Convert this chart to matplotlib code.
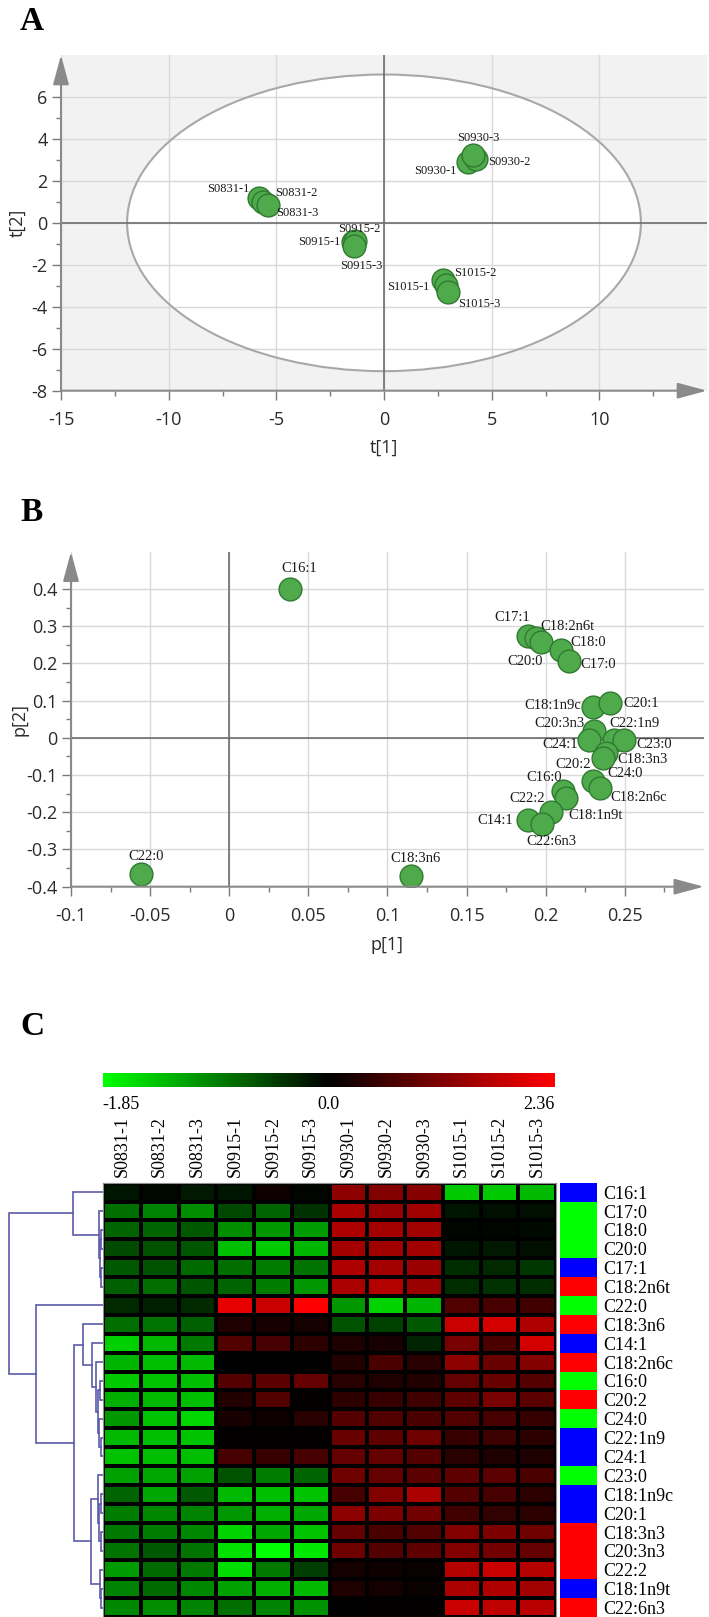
import numpy as np
import matplotlib
matplotlib.use('Agg')
import matplotlib.pyplot as plt
from matplotlib.patches import Ellipse
from matplotlib.colors import LinearSegmentedColormap, TwoSlopeNorm, ListedColormap
from matplotlib.cm import ScalarMappable

plt.rcParams['font.family'] = 'sans-serif'
plt.rcParams['font.sans-serif'] = ['Open Sans', 'DejaVu Sans']
SERIF = 'Liberation Serif'

# ---------------- data ----------------
# A: PCA score plot
score_names = ['S0831-1', 'S0831-2', 'S0831-3', 'S0915-1', 'S0915-2', 'S0915-3',
               'S0930-1', 'S0930-2', 'S0930-3', 'S1015-1', 'S1015-2', 'S1015-3']
score_t1 = [-5.80, -5.60, -5.37, -1.43, -1.33, -1.37, 3.92, 4.25, 4.14, 2.72, 2.88, 2.99]
score_t2 = [1.19, 1.00, 0.84, -0.90, -0.86, -1.11, 2.88, 3.02, 3.22, -2.73, -2.97, -3.29]
ellipse_t1 = 11.93   # Hotelling T2 semi axes
ellipse_t2 = 7.07

# B: loading plot
load_names = ['C16:1', 'C17:1', 'C18:2n6t', 'C20:0', 'C18:0', 'C17:0', 'C18:1n9c', 'C20:1',
              'C20:3n3', 'C22:1n9', 'C24:1', 'C23:0', 'C18:3n3', 'C20:2', 'C24:0',
              'C18:2n6c', 'C16:0', 'C22:2', 'C18:1n9t', 'C14:1', 'C22:6n3', 'C22:0', 'C18:3n6']
load_p1 = [0.0384, 0.1887, 0.1940, 0.1970, 0.2098, 0.2146, 0.2298, 0.2408,
           0.2309, 0.2435, 0.2277, 0.2498, 0.2380, 0.2360, 0.2302,
           0.2344, 0.2113, 0.2130, 0.2035, 0.1887, 0.1980, -0.0556, 0.1149]
load_p2 = [0.400, 0.273, 0.269, 0.258, 0.235, 0.206, 0.083, 0.093,
           0.018, -0.006, -0.005, -0.005, -0.042, -0.055, -0.116,
           -0.136, -0.142, -0.162, -0.198, -0.222, -0.231, -0.367, -0.372]

# C: heatmap
samples = score_names
fatty_acids = ['C16:1', 'C17:0', 'C18:0', 'C20:0', 'C17:1', 'C18:2n6t', 'C22:0', 'C18:3n6',
               'C14:1', 'C18:2n6c', 'C16:0', 'C20:2', 'C24:0', 'C22:1n9', 'C24:1', 'C23:0',
               'C18:1n9c', 'C20:1', 'C18:3n3', 'C20:3n3', 'C22:2', 'C18:1n9t', 'C22:6n3']
fa_class = ['MUFA', 'SFA', 'SFA', 'SFA', 'MUFA', 'PUFA', 'SFA', 'PUFA', 'MUFA', 'PUFA', 'SFA',
            'PUFA', 'SFA', 'MUFA', 'MUFA', 'SFA', 'MUFA', 'MUFA', 'PUFA', 'PUFA', 'PUFA',
            'MUFA', 'PUFA']
heat = np.array([
    [-0.15, -0.07, -0.18, -0.15, 0.14, -0.04, 1.30, 1.20, 1.25, -1.45, -1.45, -1.34],
    [-0.80, -0.94, -1.02, -0.51, -0.73, -0.36, 1.57, 1.39, 1.48, -0.15, -0.11, -0.11],
    [-0.73, -0.73, -0.65, -1.02, -1.09, -1.12, 1.62, 1.53, 1.48, -0.04, -0.04, -0.07],
    [-0.54, -0.58, -0.62, -1.38, -1.45, -1.31, 1.53, 1.48, 1.48, -0.15, -0.18, -0.11],
    [-0.65, -0.58, -0.76, -0.80, -0.91, -0.83, 1.62, 1.53, 1.43, -0.33, -0.29, -0.40],
    [-0.69, -0.80, -0.62, -0.73, -0.91, -1.09, 1.57, 1.67, 1.43, -0.33, -0.36, -0.33],
    [-0.29, -0.22, -0.29, 2.13, 1.85, 2.36, -1.09, -1.52, -1.31, 0.74, 0.65, 0.60],
    [-0.80, -0.83, -0.69, 0.28, 0.23, 0.19, -0.58, -0.47, -0.65, 1.85, 1.94, 1.62],
    [-1.49, -1.34, -0.87, 0.74, 0.65, 0.42, 0.28, 0.23, -0.25, 1.11, 0.69, 1.94],
    [-1.31, -1.38, -1.34, 0.00, 0.00, 0.00, 0.32, 0.69, 0.37, 1.30, 0.97, 1.20],
    [-1.45, -1.41, -1.38, 0.79, 0.83, 0.93, 0.37, 0.28, 0.32, 0.93, 0.97, 0.79],
    [-1.27, -1.34, -1.38, 0.32, 0.74, 0.05, 0.42, 0.51, 0.60, 0.88, 1.11, 0.83],
    [-1.09, -1.41, -1.56, 0.23, 0.14, 0.37, 0.79, 0.74, 0.69, 0.74, 0.65, 0.51],
    [-1.34, -1.38, -1.41, 0.05, 0.05, 0.05, 0.97, 0.88, 1.02, 0.51, 0.56, 0.42],
    [-1.41, -1.38, -1.38, 0.65, 0.51, 0.65, 0.93, 0.93, 0.79, 0.37, 0.28, 0.28],
    [-1.16, -1.20, -1.16, -0.58, -0.91, -0.73, 1.02, 0.93, 0.83, 0.88, 0.83, 0.69],
    [-0.73, -1.20, -0.65, -1.34, -1.38, -1.41, 0.65, 1.20, 1.57, 0.79, 0.65, 0.42],
    [-0.91, -0.98, -0.94, -1.09, -1.27, -1.20, 1.30, 1.16, 1.06, 0.60, 0.46, 0.42],
    [-0.87, -0.91, -0.98, -1.52, -1.20, -1.41, 0.93, 0.69, 0.74, 1.20, 1.16, 1.02],
    [-0.83, -0.65, -0.83, -1.63, -1.85, -1.67, 1.02, 0.79, 0.88, 1.20, 1.06, 0.93],
    [-1.12, -0.76, -0.87, -1.60, -0.87, -0.44, 0.19, 0.14, 0.09, 1.67, 1.85, 1.67],
    [-0.94, -0.76, -0.98, -1.16, -1.27, -1.34, 0.28, 0.19, 0.09, 1.57, 1.62, 1.48],
    [-0.98, -1.02, -0.94, -0.80, -0.94, -1.05, 0.00, 0.05, 0.05, 1.85, 1.76, 1.71],
])
heat_min, heat_max = -1.85, 2.36

# row dendrogram, (left, right, distance); leaves are 0..22, merge k gives id 23+k
dendro_merges = [
    (2, 3, 1.5), (4, 5, 2.0), (23, 24, 2.5), (1, 25, 4.0), (0, 26, 30.0),
    (10, 11, 2.5), (13, 14, 2.0), (12, 29, 3.5), (28, 30, 5.0), (9, 31, 7.0),
    (8, 32, 11.3), (7, 33, 20.3), (16, 17, 2.0), (18, 19, 1.5), (35, 36, 3.5),
    (15, 37, 5.0), (21, 22, 1.5), (20, 39, 3.0), (38, 40, 12.3), (34, 41, 29.0),
    (6, 42, 67.3), (27, 43, 94.0),
]

# ---------------- layout / style ----------------
W, H = 709, 1617
PT = 0.72  # points per pixel at dpi 100

score_offsets = {  # (dx, dy) in px, ha
    'S0831-1': (-10, 9, 'right'), 'S0831-2': (12, 9, 'left'), 'S0831-3': (8, -8, 'left'),
    'S0915-1': (-13, 0, 'right'), 'S0915-2': (4, 12, 'center'), 'S0915-3': (7, -20, 'center'),
    'S0930-1': (-12, -9, 'right'), 'S0930-2': (13, -3, 'left'), 'S0930-3': (5, 17, 'center'),
    'S1015-1': (-13, -7, 'right'), 'S1015-2': (8, 12, 'left'), 'S1015-3': (10, -12, 'left'),
}
load_offsets = {
    'C16:1': (9, 20, 'center'), 'C17:1': (2, 19, 'right'), 'C18:2n6t': (4, 11, 'left'),
    'C20:0': (2, -20, 'right'), 'C18:0': (9, 8, 'left'), 'C17:0': (12, -3, 'left'),
    'C18:1n9c': (-12, 1, 'right'), 'C20:1': (13, 0, 'left'), 'C20:3n3': (-10, 8, 'right'),
    'C22:1n9': (-5, 17, 'left'), 'C24:1': (-11, -5, 'right'), 'C23:0': (12, -5, 'left'),
    'C18:3n3': (12, -6, 'left'), 'C20:2': (-12, -6, 'right'), 'C24:0': (14, 7, 'left'),
    'C18:2n6c': (10, -9, 'left'), 'C16:0': (-1, 13, 'right'), 'C22:2': (-21, 0, 'right'),
    'C18:1n9t': (17, -4, 'left'), 'C14:1': (-15, 0, 'right'), 'C22:6n3': (9, -18, 'center'),
    'C22:0': (5, 18, 'center'), 'C18:3n6': (5, 18, 'center'),
}

GREEN_FACE = '#4eaa4b'
GREEN_EDGE = '#2f7a30'
DENDRO_COLOR = '#5a5aaa'
CLASS_COLORS = {'SFA': '#00ff00', 'MUFA': '#0000ff', 'PUFA': '#ff0000'}


def px_axes(fig, x0, y0, x1, y1):
    return fig.add_axes([x0 / W, 1 - y1 / H, (x1 - x0) / W, (y1 - y0) / H])


def fmt(v):
    return '{:g}'.format(np.round(v, 3) + 0.0)


def simca_axes(ax, xlim, ylim, xmajor, xminor, ymajor, yminor):
    """Style an axes like the SIMCA score/loading plots (arrow axes, grid)."""
    ax.set_xlim(*xlim)
    ax.set_ylim(*ylim)
    ax.set_xticks(xmajor, [fmt(v) for v in xmajor])
    ax.set_yticks(ymajor, [fmt(v) for v in ymajor])
    ax.set_xticks(xminor, minor=True)
    ax.set_yticks(yminor, minor=True)
    ax.tick_params(which='major', direction='out', length=6.3, width=1, color='#7a7a7a',
                   labelsize=13, labelcolor='#2a2a2a')
    ax.tick_params(which='minor', direction='out', length=3.6, width=1, color='#7a7a7a')
    ax.tick_params(axis='x', which='major', pad=8.5)
    ax.tick_params(axis='y', which='major', pad=3.3)
    ax.grid(True, which='major', color='#d9d9d9', lw=1)
    ax.set_axisbelow(True)
    for s in ax.spines.values():
        s.set_visible(False)
    ax.axhline(0, color='#6e6e6e', lw=1.2, zorder=1.6)
    ax.axvline(0, color='#6e6e6e', lw=1.2, zorder=1.6)
    arrow = dict(arrowstyle='-|>,head_length=1.3,head_width=0.35', color='#8a8a8a', lw=1.5,
                 shrinkA=0, shrinkB=0, mutation_scale=14)
    ax.annotate('', xy=(1, 0), xytext=(0, 0), xycoords='axes fraction',
                arrowprops=arrow, annotation_clip=False, zorder=5)
    ax.annotate('', xy=(0, 1), xytext=(0, 0), xycoords='axes fraction',
                arrowprops=arrow, annotation_clip=False, zorder=5)


def label_points(ax, names, xs, ys, offsets, size):
    for name, x, y in zip(names, xs, ys):
        dx, dy, ha = offsets[name]
        ax.annotate(name, (x, y), xytext=(dx * PT, dy * PT), textcoords='offset points',
                    ha=ha, va='center', fontsize=size, family=SERIF, color='#1a1a1a', zorder=4)


def draw_dendrogram(ax, merges, n_leaves):
    ypos = {i: i + 0.5 for i in range(n_leaves)}
    height = {i: 0.0 for i in range(n_leaves)}
    for k, (a, b, d) in enumerate(merges):
        ax.plot([height[a], d, d, height[b]], [ypos[a], ypos[a], ypos[b], ypos[b]],
                color=DENDRO_COLOR, lw=1.2, solid_joinstyle='miter')
        ypos[n_leaves + k] = (ypos[a] + ypos[b]) / 2
        height[n_leaves + k] = d


fig = plt.figure(figsize=(W / 100, H / 100), dpi=100)

# ---------------- A ----------------
fig.text(20 / W, 1 - 6 / H, 'A', family=SERIF, fontweight='bold', fontsize=24, va='top')
axA = px_axes(fig, 61, 55, 707, 390.7)
axA.set_facecolor('#f2f2f2')
simca_axes(axA, (-15, 15), (-8, 8), np.arange(-15, 11, 5), np.arange(-15, 15, 2.5),
           np.arange(-8, 7, 2), np.arange(-8, 8, 1))
axA.add_patch(Ellipse((0, 0), 2 * ellipse_t1, 2 * ellipse_t2, facecolor='white',
                      edgecolor='none', zorder=0.2))
axA.add_patch(Ellipse((0, 0), 2 * ellipse_t1, 2 * ellipse_t2, facecolor='none',
                      edgecolor='#a8a8a8', lw=1.5, zorder=1.5))
axA.scatter(score_t1, score_t2, s=270, c=GREEN_FACE, edgecolors=GREEN_EDGE, linewidths=1.0,
            zorder=3)
label_points(axA, score_names, score_t1, score_t2, score_offsets, 9)
fig.text(384 / W, 1 - 448 / H, 't[1]', fontsize=13, ha='center', va='center', color='#2a2a2a')
fig.text(18 / W, 1 - 222.7 / H, 't[2]', fontsize=13, ha='center', va='center', rotation=90,
         color='#2a2a2a')

# ---------------- B ----------------
fig.text(20 / W, 1 - 497 / H, 'B', family=SERIF, fontweight='bold', fontsize=24, va='top')
axB = px_axes(fig, 71, 551.7, 703.8, 886.7)
axB.set_facecolor('white')
simca_axes(axB, (-0.1, 0.3), (-0.4, 0.5), np.arange(-0.1, 0.26, 0.05),
           np.arange(-0.1, 0.3, 0.025), np.arange(-0.4, 0.41, 0.1), np.arange(-0.4, 0.5, 0.05))
axB.scatter(load_p1, load_p2, s=270, c=GREEN_FACE, edgecolors=GREEN_EDGE, linewidths=1.0,
            zorder=3)
label_points(axB, load_names, load_p1, load_p2, load_offsets, 10.5)
fig.text(387 / W, 1 - 945 / H, 'p[1]', fontsize=13, ha='center', va='center', color='#2a2a2a')
fig.text(20 / W, 1 - 719 / H, 'p[2]', fontsize=13, ha='center', va='center', rotation=90,
         color='#2a2a2a')

# ---------------- C ----------------
fig.text(20 / W, 1 - 1011 / H, 'C', family=SERIF, fontweight='bold', fontsize=24, va='top')
cmap = LinearSegmentedColormap.from_list('gkr', ['#00ff00', '#000000', '#ff0000'])
norm = TwoSlopeNorm(vmin=heat_min, vcenter=0.0, vmax=heat_max)
n_rows, n_cols = heat.shape

axH = px_axes(fig, 103, 1182.7, 556, 1617)
axH.pcolormesh(np.arange(n_cols + 1), np.arange(n_rows + 1), heat, cmap=cmap, norm=norm,
               edgecolors='black', linewidth=1.5)
axH.set_ylim(n_rows, 0)
axH.set_yticks([])
axH.xaxis.tick_top()
axH.set_xticks(np.arange(n_cols) + 0.5, samples, rotation=90, family=SERIF, fontsize=13)
axH.tick_params(axis='x', length=0, pad=4)
for s in axH.spines.values():
    s.set_color('#909090')
    s.set_linewidth(0.8)

axD = px_axes(fig, 0, 1182.7, 103, 1617)
draw_dendrogram(axD, dendro_merges, n_rows)
axD.set_xlim(103, 0)
axD.set_ylim(n_rows, 0)
axD.axis('off')

axS = px_axes(fig, 560, 1182.7, 597, 1617)
class_names = list(CLASS_COLORS)
codes = np.array([[class_names.index(c)] for c in fa_class])
axS.pcolormesh(codes, cmap=ListedColormap([CLASS_COLORS[c] for c in class_names]),
               vmin=-0.5, vmax=len(class_names) - 0.5)
axS.set_ylim(n_rows, 0)
axS.set_xticks([])
axS.yaxis.tick_right()
axS.set_yticks(np.arange(n_rows) + 0.5, fatty_acids, family=SERIF, fontsize=13)
axS.tick_params(axis='y', length=0, pad=4.3)
for s in axS.spines.values():
    s.set_visible(False)

axC = px_axes(fig, 102.7, 1072.7, 555, 1086.7)
cb = fig.colorbar(ScalarMappable(norm=norm, cmap=cmap), cax=axC, orientation='horizontal',
                  ticks=[heat_min, 0.0, heat_max])
cb.outline.set_visible(False)
axC.set_xticklabels(['{:.2f}'.format(heat_min), '0.0', '{:.2f}'.format(heat_max)],
                    family=SERIF, fontsize=13)
axC.tick_params(axis='x', length=0, pad=7)
tl = axC.get_xticklabels()
tl[0].set_ha('left')
tl[-1].set_ha('right')

fig.savefig('out.png', dpi=100)
